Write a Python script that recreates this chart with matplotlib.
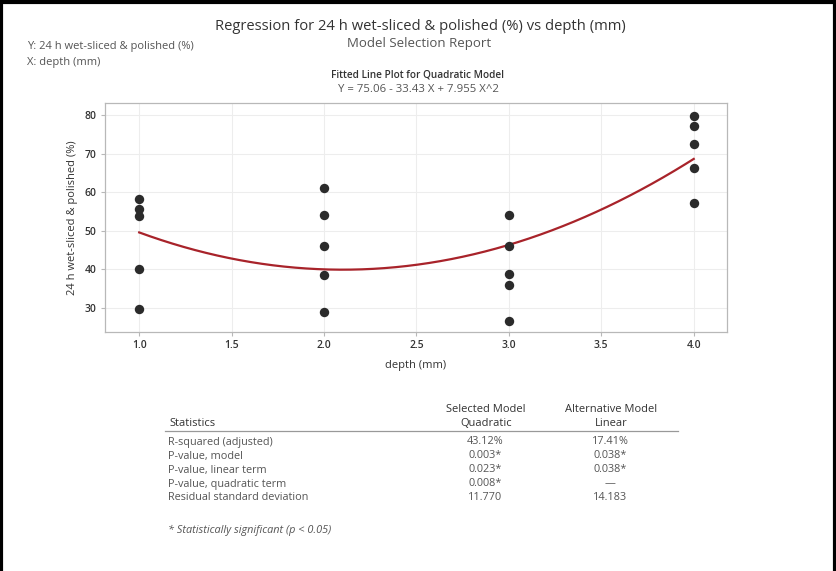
import matplotlib.pyplot as plt
import matplotlib.lines as mlines
import numpy as np

plt.rcParams['font.family'] = ['Open Sans', 'DejaVu Sans']

# observations: depth (mm) and 24 h wet-sliced & polished (%)
depth = [1, 1, 1, 1, 1,
         2, 2, 2, 2, 2,
         3, 3, 3, 3, 3,
         4, 4, 4, 4, 4]
polished = [58.2, 55.6, 53.9, 40.1, 29.7,
            61.1, 54.0, 46.1, 38.5, 29.0,
            54.2, 46.1, 38.9, 36.0, 26.7,
            79.7, 77.2, 72.5, 66.3, 57.2]

# fitted quadratic coefficients: Y = b0 + b1 X + b2 X^2
coef = [75.06, -33.43, 7.955]

x_ticks = [1.0, 1.5, 2.0, 2.5, 3.0, 3.5, 4.0]
y_ticks = [30, 40, 50, 60, 70, 80]

stat_names = ["R-squared (adjusted)", "P-value, model", "P-value, linear term",
              "P-value, quadratic term", "Residual standard deviation"]
quad_vals = ["43.12%", "0.003*", "0.023*", "0.008*", "11.770"]
lin_vals = ["17.41%", "0.038*", "0.038*", "\u2014", "14.183"]


def main():
    W, H = 837, 571
    fig = plt.figure(figsize=(W / 100, H / 100), dpi=100)

    def fx(px):
        return px / W

    def fy(py):
        return 1 - py / H

    # frame around the report
    for xs, ys in [([1.5, 1.5], [0, H]), ([0, W], [1.5, 1.5]), ([W - 2, W - 2], [0, H])]:
        fig.add_artist(mlines.Line2D([fx(v) for v in xs], [fy(v) for v in ys],
                                     color='black', lw=3))

    dark = '#333333'
    grey = '#555555'
    fig.text(fx(420), fy(27), "Regression for 24 h wet-sliced & polished (%) vs depth (mm)",
             ha='center', va='center', fontsize=10.6, color=dark)
    fig.text(fx(419), fy(44), "Model Selection Report",
             ha='center', va='center', fontsize=9.5, color=grey)
    fig.text(fx(27), fy(46), "Y: 24 h wet-sliced & polished (%)",
             ha='left', va='center', fontsize=8, color=grey)
    fig.text(fx(27), fy(62), "X: depth (mm)",
             ha='left', va='center', fontsize=8, color=grey)
    fig.text(fx(418), fy(75), "Fitted Line Plot for Quadratic Model",
             ha='center', va='center', fontsize=7.2, color=dark, fontweight='semibold')
    fig.text(fx(418), fy(89), "Y = 75.06 - 33.43 X + 7.955 X^2",
             ha='center', va='center', fontsize=8.2, color=grey)

    ax = fig.add_axes([fx(105), fy(332), fx(727) - fx(105), fy(103) - fy(332)])
    ax.set_xlim(0.815, 4.18)
    ax.set_ylim(23.8, 83.1)
    ax.set_xticks(x_ticks)
    ax.set_yticks(y_ticks)
    ax.set_xticklabels([f"{v:.1f}" for v in x_ticks])
    ax.grid(True, color='#ededed', lw=0.8)
    ax.set_axisbelow(True)
    for s in ax.spines.values():
        s.set_color('#b8b8b8')
        s.set_linewidth(0.9)
    ax.tick_params(length=3, width=0.8, color='#b8b8b8', labelsize=7.5,
                   labelcolor=dark, pad=3)
    for lab in ax.get_xticklabels() + ax.get_yticklabels():
        lab.set_fontweight('semibold')

    xs = np.linspace(1, 4, 200)
    ys = coef[0] + coef[1] * xs + coef[2] * xs ** 2
    ax.plot(xs, ys, color='#a8232a', lw=1.6, zorder=2)
    ax.scatter(depth, polished, s=46, color='#2b2b2b', zorder=3, linewidths=0)

    ax.set_xlabel("depth (mm)", fontsize=8, color=dark, labelpad=6)
    ax.set_ylabel("24 h wet-sliced & polished (%)", fontsize=8, color=dark, labelpad=5)

    # statistics table
    hsize = 8
    tsize = 7.8
    fig.text(fx(169), fy(423), "Statistics", ha='left', va='center', fontsize=hsize, color=dark)
    fig.text(fx(486), fy(410), "Selected Model", ha='center', va='center', fontsize=hsize, color=dark)
    fig.text(fx(486), fy(423), "Quadratic", ha='center', va='center', fontsize=hsize, color=dark)
    fig.text(fx(611), fy(410), "Alternative Model", ha='center', va='center', fontsize=hsize, color=dark)
    fig.text(fx(611), fy(423), "Linear", ha='center', va='center', fontsize=hsize, color=dark)
    fig.add_artist(mlines.Line2D([fx(165), fx(678)], [fy(431), fy(431)],
                                 color='#999999', lw=0.9))
    for i, name in enumerate(stat_names):
        y = 442 + i * 14
        fig.text(fx(168), fy(y), name, ha='left', va='center', fontsize=tsize, color=grey)
        fig.text(fx(485), fy(y), quad_vals[i], ha='center', va='center', fontsize=tsize, color=grey)
        fig.text(fx(610), fy(y), lin_vals[i], ha='center', va='center', fontsize=tsize, color=grey)
    fig.text(fx(168), fy(530), "* Statistically significant (p < 0.05)",
             ha='left', va='center', fontsize=7.8, color=grey, style='italic')

    fig.savefig('out.png', dpi=100, facecolor='white')


if __name__ == "__main__":
    main()
